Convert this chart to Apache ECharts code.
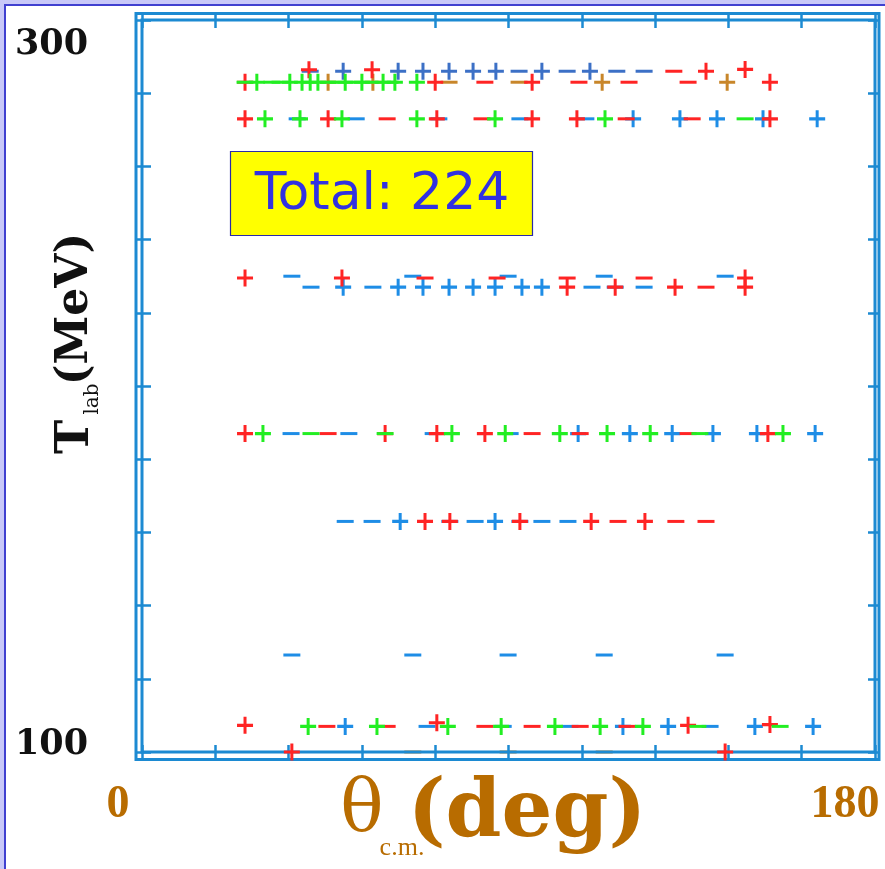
<!DOCTYPE html>
<html>
<head>
<meta charset="utf-8">
<script src="https://cdn.jsdelivr.net/npm/echarts@6/dist/echarts.min.js"></script>
<style>
  html, body { margin: 0; padding: 0; width: 885px; height: 869px; overflow: hidden; background: #c8c8f8; }
  #panel { position: absolute; left: 4px; top: 4px; width: 900px; height: 900px; background: #ffffff;
           border-left: 2px solid #4040d0; border-top: 2px solid #4040d0; }
  #chart { position: absolute; left: 0; top: 0; width: 885px; height: 869px; }
</style>
</head>
<body>
<div id="panel"></div>
<div id="chart"></div>
<script>
// Axis ranges and labelled ticks
const xRange = [0, 180], xStep = 18;
const yRange = [100, 300], yStep = 20;
const xLabelValues = [0, 180];
const yLabelValues = [100, 300];
const totalText = 'Total: 224';

// Measured points: [theta c.m. (deg), T lab (MeV)]
const slateBluePlus = [
  [49.4, 286], [62.9, 286], [69.0, 286], [75.4, 286], [81.3, 286], [86.9, 286], [98.2, 286], [110.0, 286]
];
const slateBlueDash = [
  [41.3, 286], [92.6, 286], [104.4, 286], [116.6, 286], [123.3, 286]
];
const bluePlus = [
  [120.6, 273], [132.1, 273], [141.2, 273], [152.5, 273], [165.8, 273],
  [49.4, 227], [62.9, 227], [69.0, 227], [75.4, 227], [81.3, 227], [86.7, 227], [93.3, 227], [98.2, 227],
  [107.1, 187], [119.8, 187], [130.2, 187], [140.2, 187], [151.0, 187], [165.3, 187],
  [63.4, 163], [86.7, 163],
  [49.9, 107], [118.1, 107], [129.2, 107], [150.5, 107], [164.8, 107]
];
const blueDash = [
  [38.1, 273], [52.6, 273], [72.9, 273], [92.8, 273], [109.0, 273],
  [36.8, 230], [66.5, 230], [89.9, 230], [113.5, 230], [143.2, 230],
  [41.5, 227], [56.7, 227], [110.5, 227], [116.2, 227], [123.3, 227],
  [36.6, 187], [50.8, 187], [71.5, 187], [90.4, 187],
  [49.9, 163], [56.5, 163], [75.6, 163], [81.8, 163], [92.8, 163], [98.2, 163], [104.6, 163],
  [36.8, 126.5], [66.5, 126.5], [89.9, 126.5], [113.5, 126.5], [143.2, 126.5],
  [70.0, 107], [88.7, 107], [105.1, 107], [139.5, 107]
];
const redPlus = [
  [41.0, 286.4], [56.5, 286.4], [138.5, 286], [148.1, 286.5],
  [25.3, 283], [72.0, 283], [95.8, 283], [154.2, 283],
  [25.3, 273], [45.7, 273], [72.4, 273], [95.8, 273], [106.8, 273], [154.2, 273],
  [25.3, 229.5], [49.1, 229.5], [148.1, 229.5],
  [104.4, 227], [116.2, 227], [130.9, 227], [148.1, 227],
  [25.3, 187], [59.7, 187], [72.4, 187], [84.2, 187], [153.7, 187],
  [69.5, 163], [75.6, 163], [92.8, 163], [110.3, 163], [123.5, 163],
  [25.3, 107.3], [72.4, 108], [134.1, 107.3], [154.2, 107.5],
  [36.8, 100], [143.2, 100]
];
const redDash = [
  [130.6, 286],
  [84.2, 283], [107.3, 283], [119.6, 283], [134.1, 283],
  [60.2, 273], [83.5, 273], [118.9, 273], [135.1, 273],
  [69.5, 229.5], [87.2, 229.5], [104.4, 229.5], [123.3, 229.5],
  [138.5, 227],
  [45.7, 187], [95.8, 187], [107.6, 187], [134.1, 187],
  [116.9, 163], [131.1, 163], [138.5, 163],
  [45.4, 107], [60.2, 107], [84.2, 107], [95.8, 107], [107.6, 107], [119.1, 107]
];
const greenPlus = [
  [28.2, 283], [36.3, 283], [39.3, 283], [41.3, 283], [43.2, 283], [49.9, 283], [54.0, 283], [59.2, 283], [62.1, 283], [67.5, 283],
  [30.2, 273], [38.8, 273], [49.1, 273], [67.5, 273], [86.7, 273], [113.7, 273],
  [29.7, 187], [76.1, 187], [89.2, 187], [102.6, 187], [114.2, 187], [124.8, 187], [157.4, 187],
  [40.8, 107], [57.7, 107], [75.1, 107], [88.2, 107], [101.4, 107], [112.5, 107], [123.0, 107]
];
const greenDash = [
  [25.3, 283], [31.9, 283], [33.9, 283], [45.7, 283], [47.9, 283], [51.6, 283], [56.0, 283], [60.9, 283],
  [148.1, 273],
  [41.5, 187], [59.7, 187], [137.0, 187],
  [136.5, 107], [156.7, 107]
];
const brownPlus = [
  [45.7, 283], [56.7, 283], [113.0, 283], [143.7, 283]
];
const brownDash = [
  [75.4, 283], [92.6, 283]
];
const brownDashAxis = [
  [66.5, 100], [89.9, 100], [113.5, 100]
];

// Styling
const FRAME = '#1c8ad2';
const BROWN = '#b86c00';
const PLUS = 'path://M0,6.5H16V9.5H0Z M6.5,0H9.5V16H6.5Z';
const DASH = 'path://M0,0H16V3H0Z';

function layer(data, color, shape, z) {
  return {
    type: 'scatter', data, z,
    symbol: shape === 'plus' ? PLUS : DASH,
    symbolSize: shape === 'plus' ? [16, 17] : [17, 3],
    itemStyle: { color, opacity: 1 },
    emphasis: { disabled: true },
    silent: true,
    animation: false
  };
}

const tickStyle = { color: FRAME, width: 2.5 };
function xAxisDef(position, offset, withLabels) {
  return {
    type: 'value', min: xRange[0], max: xRange[1], interval: xStep, position, offset,
    axisLine: { show: false, onZero: false },
    axisTick: { show: true, inside: true, length: 15, lineStyle: tickStyle },
    splitLine: { show: false },
    axisLabel: withLabels ? {
      show: true, margin: 22, showMinLabel: true, showMaxLabel: true,
      formatter: v => xLabelValues.includes(v) ? `{x${v}|${v}}` : '',
      rich: {
        x0:   { fontFamily: 'Liberation Serif', fontWeight: 'bold', fontSize: 46, color: BROWN, lineHeight: 46, padding: [0, 48, 0, 0] },
        x180: { fontFamily: 'Liberation Serif', fontWeight: 'bold', fontSize: 46, color: BROWN, lineHeight: 46, padding: [0, 60, 0, 0] }
      }
    } : { show: false }
  };
}
function yAxisDef(position, offset, tickLen, withLabels) {
  return {
    type: 'value', min: yRange[0], max: yRange[1], interval: yStep, position, offset,
    axisLine: { show: false, onZero: false },
    axisTick: { show: true, inside: true, length: tickLen, lineStyle: tickStyle },
    splitLine: { show: false },
    axisLabel: withLabels ? {
      show: true, margin: 47, showMinLabel: true, showMaxLabel: true,
      formatter: v => yLabelValues.includes(v) ? `{y${v}|${v}}` : '',
      rich: {
        y300: { fontFamily: 'DejaVu Serif', fontWeight: 'bold', fontSize: 35, color: '#111', lineHeight: 36, padding: [50, 0, 0, 0] },
        y100: { fontFamily: 'DejaVu Serif', fontWeight: 'bold', fontSize: 35, color: '#111', lineHeight: 36, padding: [0, 0, 14, 0] }
      }
    } : { show: false }
  };
}

const chart = echarts.init(document.getElementById('chart'), null, { renderer: 'canvas' });
chart.setOption({
  backgroundColor: 'transparent',
  animation: false,
  grid: {
    left: 142, top: 20, width: 733, height: 732,
    outerBoundsMode: 'none',
    show: true, borderColor: FRAME, borderWidth: 3, backgroundColor: 'transparent'
  },
  xAxis: [xAxisDef('bottom', 8, true), xAxisDef('top', 7, false)],
  yAxis: [yAxisDef('left', 7, 16, true), yAxisDef('right', 5, 12, false)],
  series: [
    layer(brownDashAxis, '#c8862a', 'dash', -1),
    layer(slateBlueDash, '#3c70c6', 'dash', 2),
    layer(slateBluePlus, '#3c70c6', 'plus', 2),
    layer(blueDash, '#1e8de6', 'dash', 2),
    layer(bluePlus, '#1e8de6', 'plus', 2),
    layer(brownDash, '#c8862a', 'dash', 3),
    layer(brownPlus, '#c8862a', 'plus', 3),
    layer(redPlus, '#ff2424', 'plus', 4),
    layer(redDash, '#ff2424', 'dash', 4),
    layer(greenPlus, '#22ee22', 'plus', 5),
    layer(greenDash, '#22ee22', 'dash', 5)
  ],
  graphic: [
    // outer line of the double frame
    { type: 'rect', z: 1, silent: true,
      shape: { x: 136, y: 13.5, width: 743, height: 746 },
      style: { fill: 'none', stroke: FRAME, lineWidth: 3 } },
    // total count box
    { type: 'rect', z: 10, silent: true,
      shape: { x: 230.5, y: 151.5, width: 302, height: 84 },
      style: { fill: '#ffff00', stroke: '#2a2aa8', lineWidth: 1.2 } },
    { type: 'text', z: 11, silent: true, x: 382, y: 195,
      style: { text: totalText, fill: '#3232e0', font: '52px "DejaVu Sans"', align: 'center', verticalAlign: 'middle' } },
    // x axis title
    { type: 'text', silent: true, x: 362, y: 812,
      style: { text: 'θ', fill: BROWN, font: '72px "DejaVu Serif"', align: 'center', verticalAlign: 'middle' } },
    { type: 'text', silent: true, x: 402, y: 848,
      style: { text: 'c.m.', fill: BROWN, font: '26px "Liberation Serif"', align: 'center', verticalAlign: 'middle' } },
    { type: 'text', silent: true, x: 527, y: 815,
      style: { text: '(deg)', fill: BROWN, font: 'bold 80px "DejaVu Serif"', align: 'center', verticalAlign: 'middle' } },
    // y axis title
    { type: 'text', silent: true, x: 76, y: 437, rotation: Math.PI / 2,
      style: { text: 'T', fill: '#111', font: 'bold 46px "DejaVu Serif"', align: 'center', verticalAlign: 'middle' } },
    { type: 'text', silent: true, x: 93, y: 399, rotation: Math.PI / 2,
      style: { text: 'lab', fill: '#111', font: '20px "DejaVu Serif"', align: 'center', verticalAlign: 'middle' } },
    { type: 'text', silent: true, x: 76, y: 309, rotation: Math.PI / 2,
      style: { text: '(MeV)', fill: '#111', font: 'bold 44px "DejaVu Serif"', align: 'center', verticalAlign: 'middle' } }
  ]
});
</script>
</body>
</html>
